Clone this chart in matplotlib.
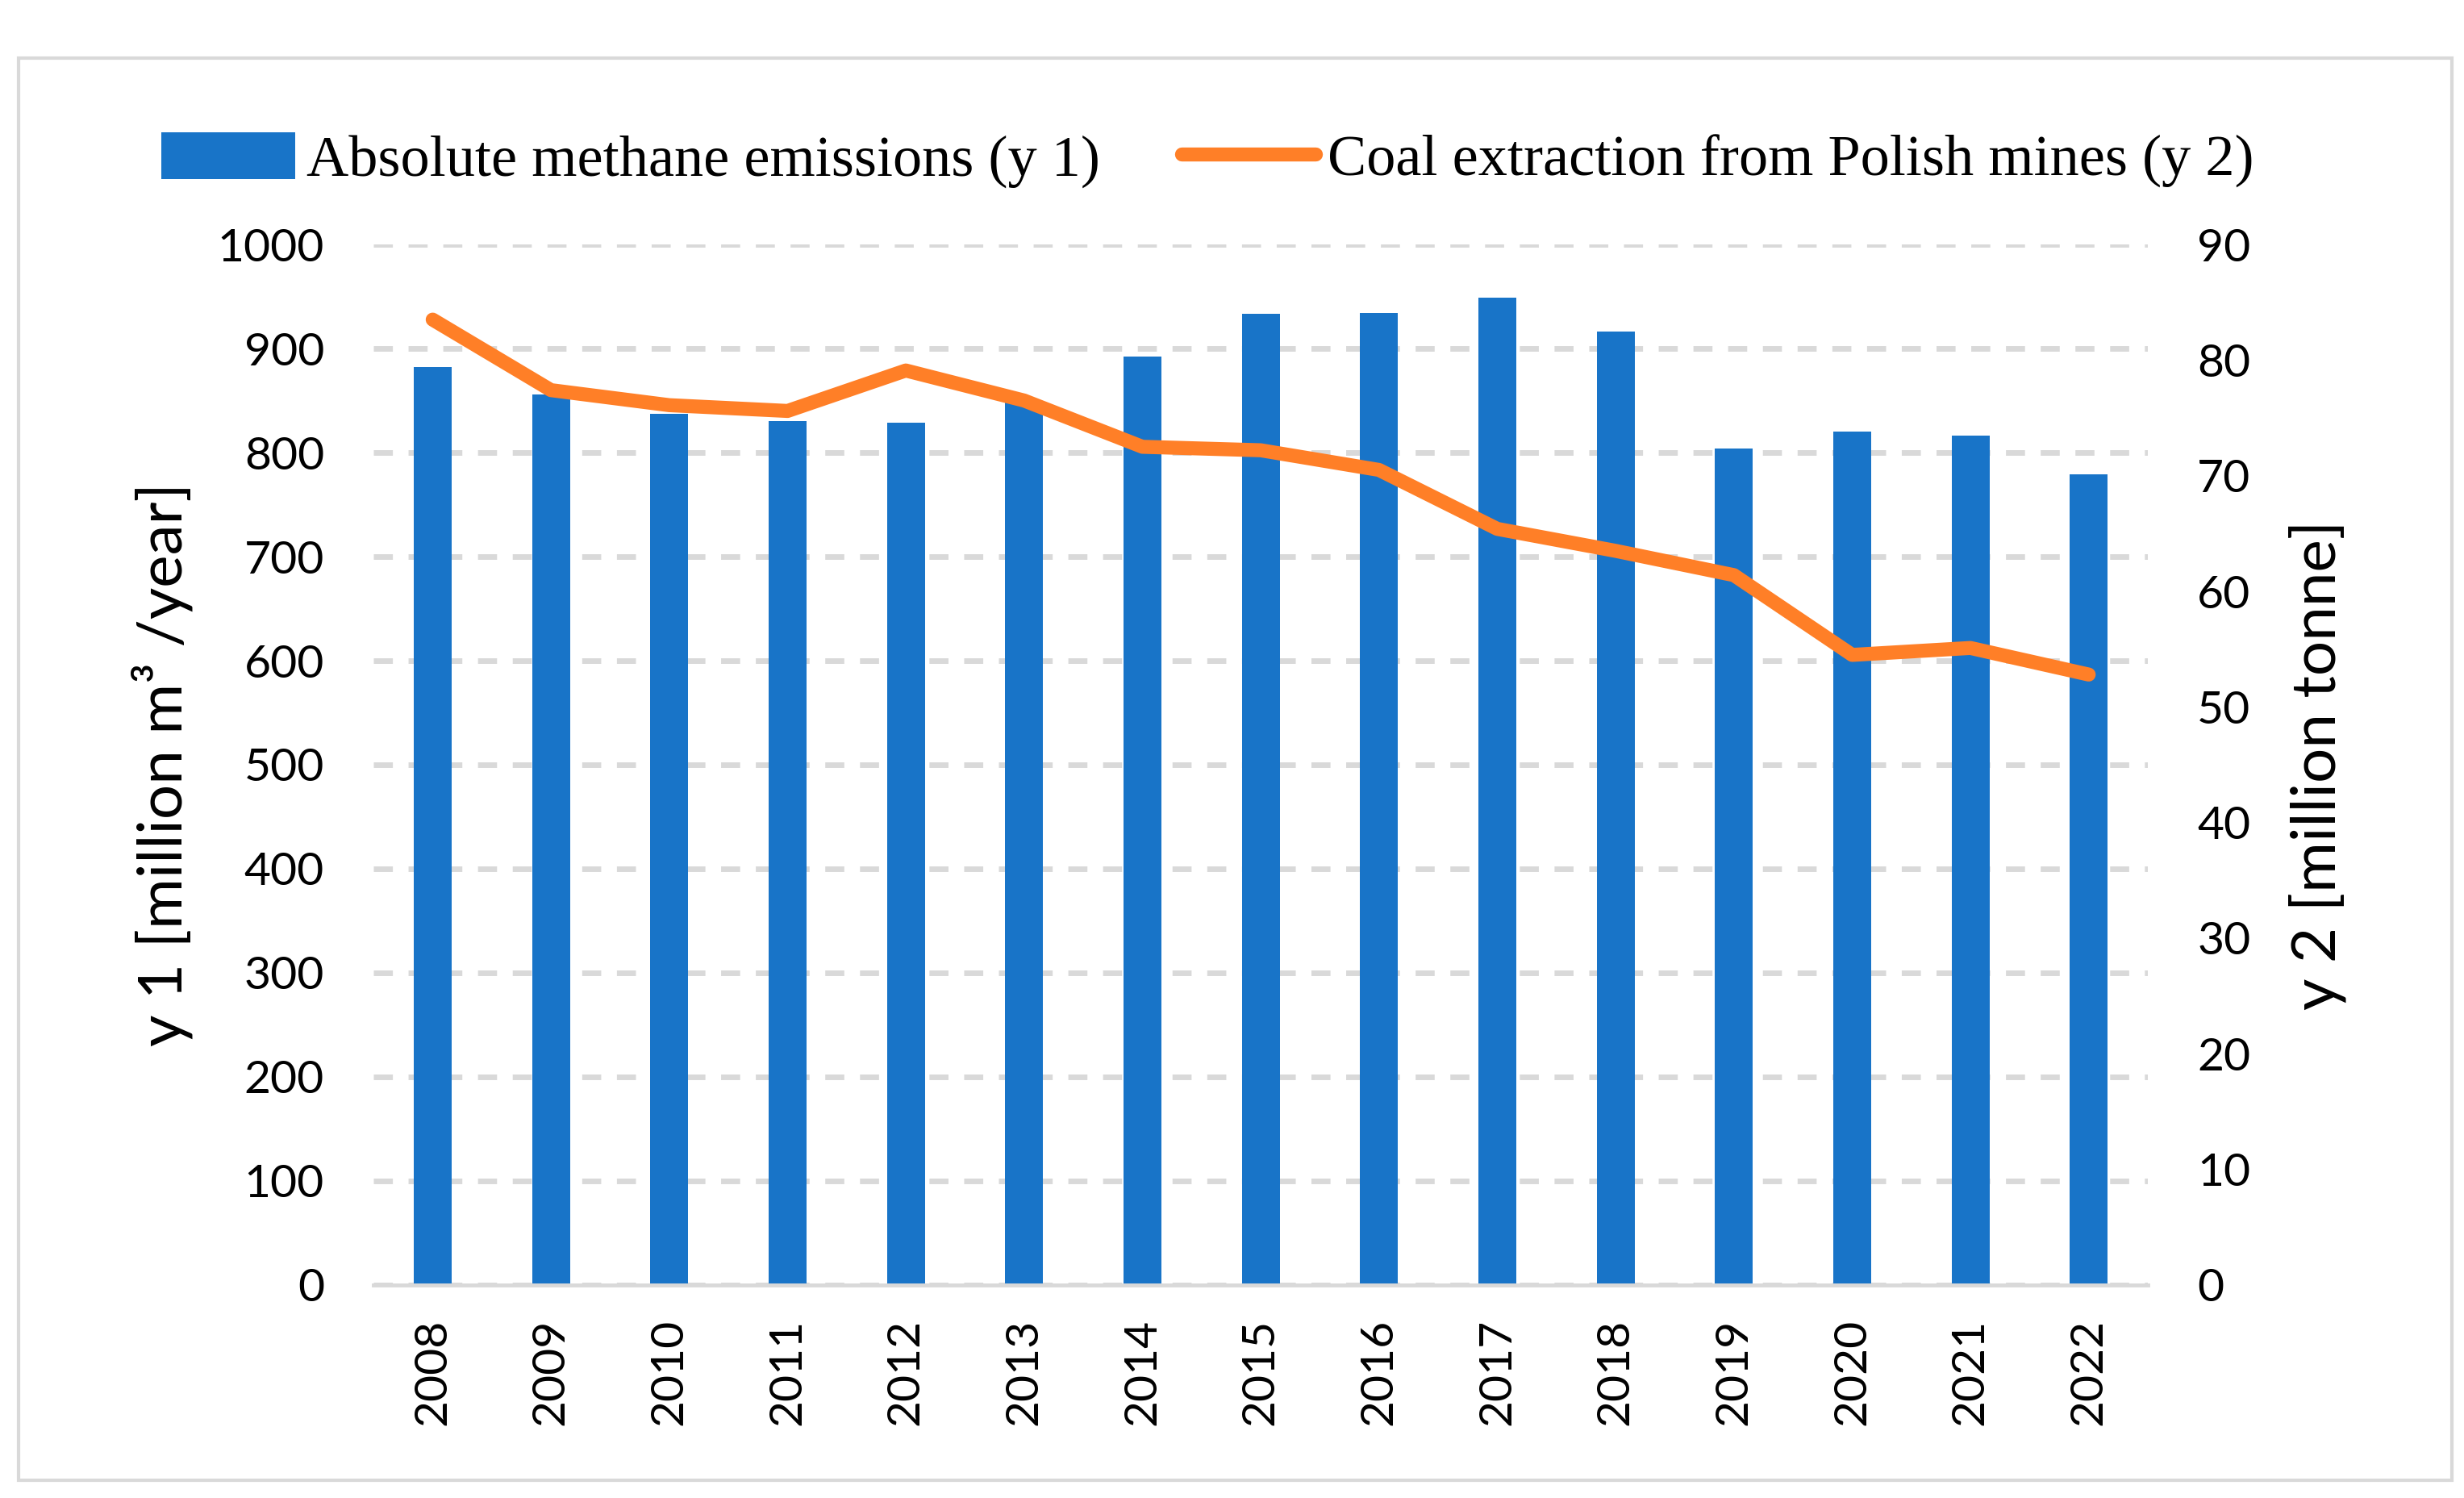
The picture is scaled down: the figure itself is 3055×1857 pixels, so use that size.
import matplotlib
matplotlib.use("Agg")
import numpy as np
import matplotlib.pyplot as plt
from matplotlib.patches import Rectangle, Patch
from matplotlib.lines import Line2D

# fonts: Calibri-like sans for ticks, serif for the legend
matplotlib.rc('font', family=['Lato', 'DejaVu Sans'])

# data
years = ['2008', '2009', '2010', '2011', '2012', '2013', '2014', '2015',
         '2016', '2017', '2018', '2019', '2020', '2021', '2022']
methane = [882, 856, 837, 830, 829, 848, 892, 933, 934, 949, 916, 804, 820, 816, 779]
coal = [83.5, 77.4, 76.1, 75.6, 79.1, 76.5, 72.5, 72.2, 70.5, 65.4, 63.5, 61.4, 54.5, 55.1, 52.8]

blue = '#1874C8'
orange = '#FF7F27'
grey = '#D9D9D9'

fig = plt.figure(figsize=(30.55, 18.57), dpi=100)
ax = fig.add_axes([0.1516, 0.1422, 0.7201, 0.6946])
ax2 = ax.twinx()

x = np.arange(len(years))
ax.bar(x, methane, width=0.32, color=blue, zorder=2)
ax2.plot(x, coal, color=orange, lw=12.5, solid_capstyle='round', zorder=3)

# left axis
ax.set_ylim(0, 1000)
ax.set_yticks(np.arange(0, 1001, 100))
ax.set_xlim(-0.5, len(years) - 0.5)
ax.set_xticks(x)
ax.set_xticklabels(years, rotation=90)
ax.yaxis.grid(True, color=grey, lw=5, ls=(0, (3.4, 2.8)), zorder=0)
ax.set_axisbelow(True)
ax.tick_params(axis='y', length=0, labelsize=41, pad=44)
ax.tick_params(axis='x', length=0, labelsize=41, pad=30)
ax.set_ylabel('y 1 [million m³ /year]', fontsize=55, labelpad=22)

# right axis
ax2.set_ylim(0, 90)
ax2.set_yticks(np.arange(0, 91, 10))
ax2.tick_params(axis='y', length=0, labelsize=41, pad=44)
ax2.set_ylabel('y 2 [million tonne]', fontsize=55, labelpad=34)

for a in (ax, ax2):
    for s in ('top', 'left', 'right', 'bottom'):
        a.spines[s].set_visible(False)
ax.spines['bottom'].set_visible(True)
ax.spines['bottom'].set_color(grey)
ax.spines['bottom'].set_linewidth(3.5)

# legend
handles = [Patch(facecolor=blue, edgecolor='none'),
           Line2D([0], [0], color=orange, lw=12.5, solid_capstyle='round')]
labels = ['Absolute methane emissions (y 1)', 'Coal extraction from Polish mines (y 2)']
fig.legend(handles, labels, loc='center', bbox_to_anchor=(0.49, 0.893), ncol=2,
           frameon=False, prop={'family': 'Liberation Serif', 'size': 52},
           handlelength=2.3, handleheight=0.85, handletextpad=0.2, columnspacing=1.4)

# outer frame
fig.add_artist(Rectangle((23 / 3055, 1 - 1835 / 1857), (3040 - 23) / 3055, (1835 - 72) / 1857,
                         transform=fig.transFigure, fill=False, edgecolor=grey, lw=3))

plt.savefig('out.png', dpi=100)
plt.close()
